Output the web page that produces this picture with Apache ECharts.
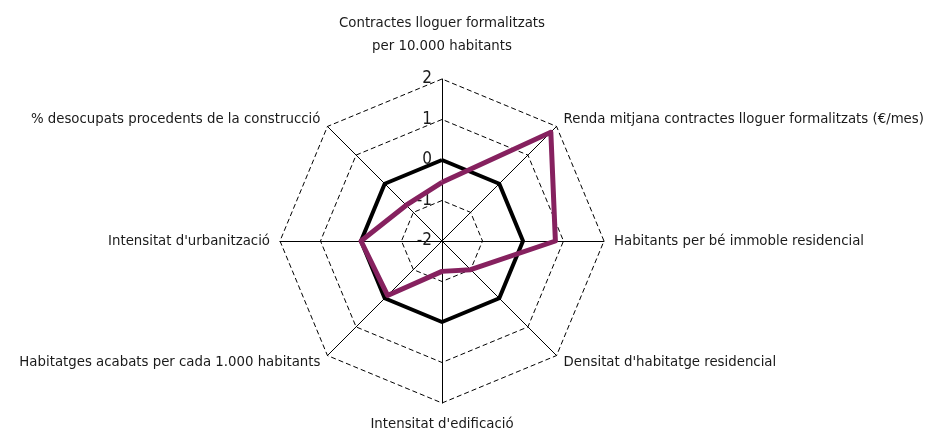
<!DOCTYPE html>
<html>
<head>
<meta charset="utf-8">
<script src="https://cdn.jsdelivr.net/npm/echarts@6/dist/echarts.min.js"></script>
<style>
  html, body { margin: 0; padding: 0; background: #ffffff; }
  #radarChart { width: 933px; height: 434px; }
</style>
</head>
<body>
<div id="radarChart"></div>
<script>
// indicators, counter-clockwise starting at the top
var indicatorNames = [
  "Contractes lloguer formalitzats\nper 10.000 habitants",
  "% desocupats procedents de la construcció",
  "Intensitat d'urbanització",
  "Habitatges acabats per cada 1.000 habitants",
  "Intensitat d'edificació",
  "Densitat d'habitatge residencial",
  "Habitants per bé immoble residencial",
  "Renda mitjana contractes lloguer formalitzats (€/mes)"
];
var axisMin = -2;
var axisMax = 2;
var referenceValues = [0, 0, 0, 0, 0, 0, 0, 0];
var districtValues = [-0.55, -0.75, 0, -0.1, -1.25, -1.0, 0.8, 1.8];

var fontName = "'DejaVu Sans Condensed', 'Liberation Sans Narrow', sans-serif";

var myChart = echarts.init(document.getElementById("radarChart"));
myChart.setOption({
  animation: false,
  radar: {
    center: [442, 241],
    radius: 162,
    startAngle: 90,
    splitNumber: 4,
    shape: "polygon",
    nameGap: 10,
    axisName: {
      color: "#1a1a1a",
      fontFamily: fontName,
      fontSize: 14.8,
      lineHeight: 23,
      // the top name sits a bit higher above the ring
      formatter: function (name) {
        if (name === indicatorNames[0]) {
          return name + "\n{gap| }";
        }
        return name;
      },
      rich: {
        gap: { lineHeight: 11, fontSize: 4 }
      }
    },
    axisLine: { lineStyle: { color: "#000", width: 1 } },
    axisTick: { show: false },
    axisLabel: { show: false },
    splitLine: { lineStyle: { color: "#000", width: 1, type: [5, 3] } },
    splitArea: { show: false },
    indicator: indicatorNames.map(function (n, i) {
      var ind = { name: n, min: axisMin, max: axisMax };
      if (i === 0) {
        // only the top axis shows its scale
        ind.axisLabel = {
          show: true,
          color: "#1a1a1a",
          fontFamily: fontName,
          fontSize: 17,
          margin: 10
        };
      }
      return ind;
    })
  },
  series: [
    {
      type: "radar",
      symbol: "none",
      silent: true,
      data: [
        {
          value: referenceValues,
          lineStyle: { color: "#000", width: 4 }
        },
        {
          value: districtValues,
          lineStyle: { color: "#86215f", width: 5 }
        }
      ]
    }
  ]
});
</script>
</body>
</html>
